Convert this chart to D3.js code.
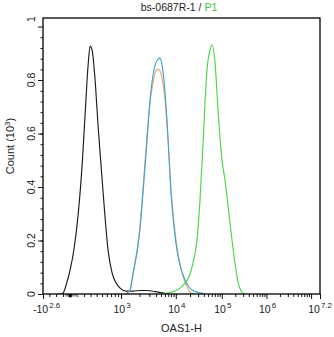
<!DOCTYPE html>
<html>
<head>
<meta charset="utf-8">
<script src="https://cdn.jsdelivr.net/npm/d3@7"></script>
<style>
  body { margin: 0; background: #fff; }
  svg { display: block; }
  text { font-family: "Liberation Sans", Arial, sans-serif; fill: #222; }
</style>
</head>
<body>
<svg id="chart" width="334" height="337"></svg>
<script>
// ---- histogram data: OAS1-H intensity sample points and counts (x10^3) ----
const blankX = [-170, -142, -99, -56, 0, 56, 113, 171, 215, 261, 292, 324, 374, 426, 482, 542, 629, 727, 838, 967, 1200, 1557, 2045, 2721, 3834, 5245, 6916];
const blankCount = [0, 0, 0.004, 0.034, 0.09, 0.17, 0.295, 0.48, 0.67, 0.856, 0.927, 0.912, 0.80, 0.63, 0.48, 0.333, 0.164, 0.079, 0.041, 0.022, 0.011, 0.011, 0.013, 0.013, 0.009, 0.004, 0];

const isotypeX = [1200, 1390, 1557, 1889, 2045, 2308, 2721, 3088, 3514, 3834, 4379, 4789, 5245, 6016, 6916, 7963, 9633, 11125, 12261, 14191, 15654, 18146, 20036, 23261];
const isotypeCount = [0, 0.015, 0.071, 0.19, 0.258, 0.396, 0.594, 0.718, 0.79, 0.826, 0.841, 0.834, 0.807, 0.725, 0.576, 0.389, 0.232, 0.15, 0.112, 0.067, 0.045, 0.019, 0.007, 0];

const secondaryX = [1200, 1390, 1557, 1889, 2045, 2308, 2721, 3088, 3514, 3834, 4379, 4789, 5245, 6016, 6916, 7963, 9633, 11125, 12261, 14191, 15654, 18146, 20036, 23261, 28420, 33038, 42525];
const secondaryCount = [0, 0.015, 0.079, 0.183, 0.247, 0.381, 0.576, 0.725, 0.819, 0.856, 0.878, 0.882, 0.856, 0.755, 0.583, 0.378, 0.217, 0.142, 0.108, 0.071, 0.052, 0.032, 0.022, 0.013, 0.007, 0.004, 0];

const oas1X = [5245, 6916, 9633, 12261, 15654, 18146, 20036, 23261, 28420, 33038, 38426, 42525, 47050, 54787, 60667, 70682, 82372, 101000, 117800, 137400, 168700, 196800, 229600, 282000, 329100];
const oas1Count = [0, 0.004, 0.011, 0.022, 0.041, 0.056, 0.075, 0.115, 0.202, 0.351, 0.557, 0.714, 0.837, 0.912, 0.931, 0.867, 0.69, 0.501, 0.426, 0.333, 0.202, 0.116, 0.045, 0.007, 0];

// ---- axis ticks ----
const xMajorTicks = [-Math.pow(10, 2.6), 1e3, 1e4, 1e5, 1e6, 1e7, Math.pow(10, 7.2)];
const xTickLabels = [["-10", "2.6"], ["10", "3"], ["10", "4"], ["10", "5"], ["10", "6"], null, ["10", "7.2"]];
const xMinorTicks = [-300, -200, -100, 0, 100, 200, 300, 400, 500, 600, 700, 800, 900,
  2e3, 3e3, 4e3, 5e3, 6e3, 7e3, 8e3, 9e3,
  2e4, 3e4, 4e4, 5e4, 6e4, 7e4, 8e4, 9e4,
  2e5, 3e5, 4e5, 5e5, 6e5, 7e5, 8e5, 9e5,
  2e6, 3e6, 4e6, 5e6, 6e6, 7e6, 8e6, 9e6];
const yMajorTicks = [0, 0.2, 0.4, 0.6, 0.8, 1.0];
const yTickLabels = ["0", "0.2", "0.4", "0.6", "0.8", "1"];
const yMax = 1.032;

const series = [
  { xs: blankX, ys: blankCount, color: "#1c1c1c" },
  { xs: isotypeX, ys: isotypeCount, color: "#f2a66a" },
  { xs: secondaryX, ys: secondaryCount, color: "#3aa4d6" },
  { xs: oas1X, ys: oas1Count, color: "#47d847" }
];

// ---- layout ----
const frame = { left: 43, right: 320, top: 18, bottom: 294 };
const svg = d3.select("#chart");

// biexponential display: value = c * (10^u - r^2 * 10^(-u/r) + r^2 - 1), u in display decades
const biex = { c: 39.1, r: 5.97 };
function biexValue(u) {
  const { c, r } = biex;
  return c * (Math.pow(10, u) - r * r * Math.pow(10, -u / r) + r * r - 1);
}
function biexDecades(v) {
  let lo = -4, hi = 10;
  for (let i = 0; i < 80; i++) {
    const m = (lo + hi) / 2;
    if (biexValue(m) < v) lo = m; else hi = m;
  }
  return (lo + hi) / 2;
}

const xMin = xMajorTicks[0], xMax = xMajorTicks[xMajorTicks.length - 1];
const xDisplay = d3.scaleLinear()
  .domain([biexDecades(xMin), biexDecades(xMax)])
  .range([frame.left, frame.right]);
const x = v => xDisplay(biexDecades(v));
const y = d3.scaleLinear().domain([0, yMax]).range([frame.bottom, frame.top]);

// ---- axes ----
const xAxisMajor = d3.axisBottom(xDisplay)
  .tickValues(xMajorTicks.map(biexDecades)).tickSize(5).tickFormat(() => "");
const xAxisMinor = d3.axisBottom(xDisplay)
  .tickValues(xMinorTicks.map(biexDecades)).tickSize(3).tickFormat(() => "");
const yMinorTicks = d3.range(0, 25).map(i => i * 0.04).filter(t => t <= yMax);
const yAxisMajor = d3.axisLeft(y).tickValues(yMajorTicks).tickSize(5).tickFormat(() => "");
const yAxisMinor = d3.axisLeft(y).tickValues(yMinorTicks).tickSize(2.5).tickFormat(() => "");

function styleAxis(g) {
  g.select(".domain").remove();
  g.selectAll(".tick line").attr("stroke", "#111").attr("stroke-width", 1);
}
svg.append("g").attr("transform", `translate(0,${frame.bottom})`).call(xAxisMinor).call(styleAxis);
svg.append("g").attr("transform", `translate(0,${frame.bottom})`).call(xAxisMajor).call(styleAxis);
svg.append("g").attr("transform", `translate(${frame.left},0)`).call(yAxisMinor).call(styleAxis);
svg.append("g").attr("transform", `translate(${frame.left},0)`).call(yAxisMajor).call(styleAxis);

// zero marker on the intensity axis
svg.append("rect")
  .attr("x", x(-70)).attr("y", frame.bottom)
  .attr("width", x(113) - x(-70)).attr("height", 2.5)
  .attr("fill", "#9a9a9a");
svg.append("rect")
  .attr("x", x(0) - 1.5).attr("y", frame.bottom)
  .attr("width", 3.2).attr("height", 3.2)
  .attr("fill", "#000");

// ---- histogram outlines ----
const line = d3.line().curve(d3.curveMonotoneX);
const clipId = "plot-clip";
svg.append("clipPath").attr("id", clipId)
  .append("rect")
  .attr("x", frame.left).attr("y", frame.top - 2)
  .attr("width", frame.right - frame.left).attr("height", frame.bottom - frame.top + 2);
const plot = svg.append("g").attr("clip-path", `url(#${clipId})`);
series.forEach(s => {
  const pts = s.xs.map((v, i) => [x(v), y(s.ys[i])]);
  plot.append("path")
    .attr("d", line(pts))
    .attr("fill", "none")
    .attr("stroke", s.color)
    .attr("stroke-width", 1.15)
    .attr("stroke-linejoin", "round");
});

// frame
svg.append("rect")
  .attr("x", frame.left).attr("y", frame.top)
  .attr("width", frame.right - frame.left).attr("height", frame.bottom - frame.top)
  .attr("fill", "none").attr("stroke", "#000").attr("stroke-width", 1.3);

// ---- tick labels ----
const xl = svg.append("g").attr("font-size", 10.5);
xMajorTicks.forEach((t, i) => {
  const lab = xTickLabels[i];
  if (!lab) return;
  let anchor = "middle", px = x(t) + 1;
  if (i === 0) { anchor = "start"; px = x(t) - 10; }
  if (i === xMajorTicks.length - 1) { anchor = "end"; px = x(t) + 12; }
  const txt = xl.append("text").attr("x", px).attr("y", 313).attr("text-anchor", anchor);
  txt.append("tspan").text(lab[0]);
  txt.append("tspan").attr("dy", -5.5).attr("font-size", 8).attr("dx", 1).text(lab[1]);
});

yMajorTicks.forEach((t, i) => {
  const ty = i === yMajorTicks.length - 1 ? y(yMax) + 1 : y(t);
  svg.append("text")
    .attr("transform", `translate(35,${ty}) rotate(-90)`)
    .attr("text-anchor", "middle")
    .attr("font-size", 10.5)
    .text(yTickLabels[i]);
});

// ---- titles ----
const title = svg.append("text")
  .attr("x", 179).attr("y", 11)
  .attr("text-anchor", "middle")
  .attr("font-size", 10.5);
title.append("tspan").text("bs-0687R-1 / ");
title.append("tspan").attr("fill", "#3cc83c").style("fill", "#3cc83c").text("P1");

svg.append("text")
  .attr("x", (frame.left + frame.right) / 2).attr("y", 332)
  .attr("text-anchor", "middle")
  .attr("font-size", 11)
  .text("OAS1-H");

const yt = svg.append("text")
  .attr("transform", `translate(14,146) rotate(-90)`)
  .attr("text-anchor", "middle")
  .attr("font-size", 11);
yt.append("tspan").text("Count (10");
yt.append("tspan").attr("dy", -4.5).attr("font-size", 8).text("3");
yt.append("tspan").attr("dy", 4.5).text(")");
</script>
</body>
</html>
